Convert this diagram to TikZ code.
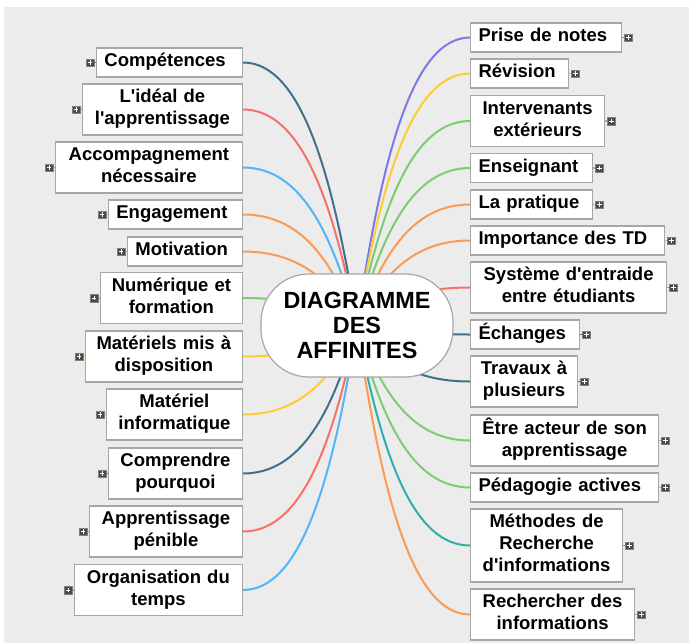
\documentclass[tikz,border=0pt]{standalone}
\usepackage{fontspec}
\newfontfamily\lsans{Liberation Sans}
\usetikzlibrary{positioning}
\definecolor{bggray}{HTML}{ECECEC}
\definecolor{boxgray}{HTML}{A6A6A6}
\definecolor{icongray}{HTML}{4A4A4A}
\definecolor{cdark}{HTML}{40708C}
\definecolor{cred}{HTML}{F7706A}
\definecolor{cblue}{HTML}{52B5F7}
\definecolor{corange}{HTML}{FB9B53}
\definecolor{cgreen}{HTML}{7ECB74}
\definecolor{cyellow}{HTML}{FDCB35}
\definecolor{cpurple}{HTML}{7B79E5}
\definecolor{cteal}{HTML}{2FAFAA}
\pgfdeclarelayer{bg}
\pgfdeclarelayer{links}
\pgfsetlayers{bg,links,main}
\tikzset{
  box/.style={draw=boxgray, fill=white, line width=1.2pt, inner ysep=0pt,
    minimum height=29pt, font=\lsans\bfseries\fontsize{18.5}{22}\selectfont,
    execute at begin node=\strut, execute at end node=\strut},
  one/.style={box, inner xsep=8pt, align=left},
  two/.style={box, inner xsep=2pt, align=center, minimum height=51pt},
  three/.style={box, inner xsep=2pt, align=center, minimum height=73pt},
  hub/.style={draw=boxgray, fill=white, line width=1.2pt, rounded corners=48pt,
    minimum width=192pt, minimum height=103pt, align=center,
    font=\lsans\bfseries\fontsize{23.4}{25}\selectfont},
  link/.style={line width=2pt},
  stub/.style={line width=1.5pt},
  pm/.style={fill=icongray, draw=icongray!70, line width=0.4pt, minimum width=8pt,
    minimum height=7.5pt, inner sep=0pt,
    path picture={\draw[white, line width=1pt]
      ([xshift=1.8pt]path picture bounding box.west) -- ([xshift=-1.8pt]path picture bounding box.east)
      ([yshift=-1.7pt]path picture bounding box.north) -- ([yshift=1.7pt]path picture bounding box.south);}},
}
\begin{document}
\begin{tikzpicture}[x=1pt,y=-1pt]
\useasboundingbox (0,0) rectangle (689,643);
\begin{pgfonlayer}{bg}
\fill[bggray] (4,7) rectangle (689,643);
\end{pgfonlayer}

\node[hub] (c) at (357,325.5) {DIAGRAMME\\DES\\AFFINITES};

% left branches
\node[one, text width=130pt, anchor=east] (l1) at (243,62.5) {Compétences};
\node[two, text width=156pt, anchor=east] (l2) at (243,109.5) {L'idéal de\\l'apprentissage};
\node[two, text width=183pt, anchor=east] (l3) at (243,167.5) {Accompagnement\\nécessaire};
\node[one, text width=118pt, anchor=east] (l4) at (243,214.5) {Engagement};
\node[one, text width=99pt, anchor=east] (l5) at (243,251.5) {Motivation};
\node[two, text width=138pt, anchor=east] (l6) at (243,298) {Numérique et\\formation};
\node[two, text width=153pt, anchor=east] (l7) at (243,356.5) {Matériels mis à\\disposition};
\node[two, text width=132pt, anchor=east] (l8) at (243,414.5) {Matériel\\informatique};
\node[two, text width=130pt, anchor=east] (l9) at (243,473.5) {Comprendre\\pourquoi};
\node[two, text width=149pt, anchor=east] (l10) at (243,531.5) {Apprentissage\\pénible};
\node[two, text width=164pt, anchor=east] (l11) at (243,590) {Organisation du\\temps};

% right branches
\node[one, text width=135pt, anchor=west] (r1) at (470,37.5) {Prise de notes};
\node[one, text width=82pt, anchor=west] (r2) at (470,73.5) {Révision};
\node[two, text width=130pt, anchor=west] (r3) at (470,121) {Intervenants\\extérieurs};
\node[one, text width=106pt, anchor=west] (r4) at (470,168) {Enseignant};
\node[one, text width=106pt, anchor=west] (r5) at (470,204.5) {La pratique};
\node[one, text width=178pt, anchor=west] (r6) at (470,240.5) {Importance des TD};
\node[two, text width=192pt, anchor=west] (r7) at (470,287.5) {Système d'entraide\\entre étudiants};
\node[one, text width=93pt, anchor=west] (r8) at (470,334.5) {Échanges};
\node[two, text width=103pt, anchor=west] (r9) at (470,381.5) {Travaux à\\plusieurs};
\node[two, text width=184pt, anchor=west] (r10) at (470,440.5) {Être acteur de son\\apprentissage};
\node[one, text width=172pt, anchor=west] (r11) at (470,487.5) {Pédagogie actives};
\node[three, text width=148pt, anchor=west] (r12) at (470,545.5) {Méthodes de\\Recherche\\d'informations};
\node[two, text width=160pt, anchor=west] (r13) at (470,614.5) {Rechercher des\\informations};

% expand icons
\foreach \n in {l1,l2,l3,l4,l5,l6,l7,l8,l9,l10,l11}
  \node[pm, left=1.5pt of \n] (\n i) {};
\foreach \n in {r1,r2,r3,r4,r5,r6,r7,r8,r9,r10,r11,r12,r13}
  \node[pm, right=2pt of \n] (\n i) {};

\begin{pgfonlayer}{links}
% left connectors
\foreach \n/\col/\v in {l1/cdark/-157.5, l2/cred/-129.3, l3/cblue/-94.5, l4/corange/-66.3,
  l5/corange/-44.1, l6/cgreen/-16.2, l7/cyellow/18.9, l8/cyellow/53.7, l9/cdark/89.1,
  l10/cred/123.9, l11/cblue/159}{
  \draw[link, \col] (\n.east) .. controls +(57,0) and +(-25,\v) .. (c.center);
  \draw[stub, \col] (\n.west) -- (\n i.east);
}
% right connectors
\foreach \n/\col/\v in {r1/cpurple/-172.5, r2/cyellow/-150.9, r3/cgreen/-122.4, r4/cgreen/-94.2,
  r5/corange/-72.3, r6/corange/-50.7, r7/cred/-22.5, r8/cdark/5.7, r9/cdark/33.9,
  r10/cgreen/69.3, r11/cgreen/97.5, r12/cteal/132.3, r13/corange/173.7}{
  \draw[link, \col] (\n.west) .. controls +(-56.5,0) and +(25,\v) .. (c.center);
  \draw[stub, \col] (\n.east) -- (\n i.west);
}
\end{pgfonlayer}
\end{tikzpicture}
\end{document}
